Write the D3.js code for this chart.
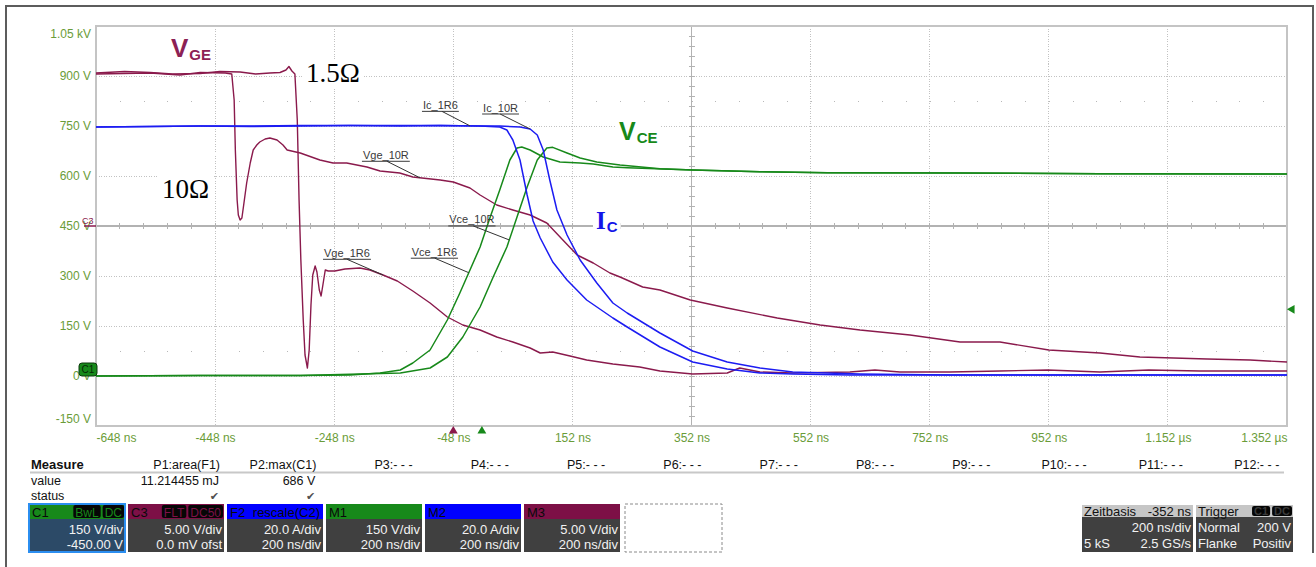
<!DOCTYPE html>
<html>
<head>
<meta charset="utf-8">
<script src="https://cdn.jsdelivr.net/npm/d3@7"></script>
<style>
  body { margin: 0; background: #fff; }
  svg { display: block; font-family: "Liberation Sans", Arial, sans-serif; }
</style>
</head>
<body>
<svg id="scope" width="1316" height="567"></svg>
<script>
// axis ticks
var timeTicks = [-648, -448, -248, -48, 152, 352, 552, 752, 952, 1152, 1352];   // ns
var voltTicks = [-150, 0, 150, 300, 450, 600, 750, 900, 1050];                  // V (C1 scale)

// gate-emitter voltage [ns, V]
var vge1R6 = [[-648,15.3],[-600,15.45],[-557,15.35],[-520,15.2],[-473,15.25],[-440,15.45],[-406,15.4],[-380,15.2],[-356,15.3],
  [-339,15.35],[-329,15.6],[-324,15.95],[-319,15.5],[-314,15.2],[-310,10.6],[-307,2.6],[-304,-3.4],[-300,-9.4],[-297,-12.9],
  [-293,-14.2],[-290,-12.4],[-287,-7.9],[-284,-4.9],[-280,-4.0],[-277,-4.6],[-273,-6.4],[-270,-7.0],[-267,-5.9],[-263,-4.4],
  [-258,-4.5],[-247,-4.5],[-230,-4.3],[-205,-4.2],[-188,-4.4],[-166,-4.9],[-142,-5.5],[-116,-6.5],[-87,-7.7],[-58,-9.1],
  [-32,-9.9],[-3,-10.4],[25,-11.1],[52,-11.6],[81,-12.2],[98,-12.7],[119,-12.6],[148,-13.0],[176,-13.4],[220,-13.8],
  [265,-14.1],[299,-14.5],[354,-14.8],[412,-14.7],[433,-14.2],[467,-14.6],[522,-14.7],[618,-14.6],[660,-14.4],[702,-14.6],
  [786,-14.6],[870,-14.5],[950,-14.4],[1038,-14.6],[1120,-14.4],[1206,-14.5],[1352,-14.5]];
var vge10R = [[-648,15.2],[-557,15.3],[-507,15.1],[-473,15.35],[-431,15.3],[-420,15.2],[-416,12.6],[-414,7.6],[-411,2.6],
  [-409,1.1],[-406,0.6],[-403,0.8],[-400,2.1],[-395,4.3],[-389,6.3],[-384,7.6],[-378,8.1],[-373,8.4],[-364,8.7],[-356,8.8],
  [-344,8.6],[-334,8.1],[-327,7.6],[-305,7.3],[-272,6.6],[-250,6.3],[-227,6.3],[-193,5.9],[-171,5.5],[-138,5.3],[-116,4.9],
  [-70,4.6],[-48,4.4],[-20,3.8],[-3,3.1],[25,2.1],[52,1.6],[81,1.1],[109,0.3],[136,-1.4],[160,-2.9],[187,-3.7],[215,-4.7],
  [232,-5.1],[270,-6.1],[299,-6.4],[350,-7.4],[412,-8.2],[496,-9.2],[568,-9.9],[635,-10.4],[719,-10.9],[803,-11.6],
  [870,-11.6],[952,-12.4],[1038,-12.7],[1105,-13.1],[1218,-13.3],[1290,-13.4],[1352,-13.6]];

// collector current [ns, A]
var ic1R6 = [[-648,99.6],[-557,99.8],[-473,100],[-389,99.8],[-305,100],[-221,100.2],[-137,100.2],[-70,100.2],[-3,100],
  [30,99.6],[42,98.4],[52,94.4],[64,86.4],[76,72.4],[86,62],[98,55.2],[119,45.6],[143,38.4],[176,30.4],[220,23.2],
  [244,19.6],[299,11.6],[354,5.6],[412,2.8],[467,1.2],[522,0.8],[618,0.4],[786,0.4],[1038,0.4],[1352,0.4]];
var ic10R = [[-648,99.6],[-557,99.8],[-473,100],[-389,100],[-305,100.2],[-221,100.2],[-137,100],[-70,100.2],[-3,100],
  [30,100],[64,99.6],[81,98.8],[93,96.4],[103,90.4],[114,78.4],[126,66.4],[143,56.4],[165,46.4],[193,37.2],[220,29.2],
  [244,25.2],[299,17.2],[354,10],[412,5.6],[467,3.2],[522,1.6],[635,0.8],[786,0.4],[1352,0.4]];

// collector-emitter voltage [ns, V]
var vce1R6 = [[-648,0],[-473,1.5],[-305,1.5],[-221,3],[-171,9],[-137,18],[-116,39],[-87,78],[-58,168],[-37,249],[-20,318],
  [-3,387],[14,477],[30,558],[47,648],[59,684],[67,687],[81,678],[103,657],[131,642],[165,639],[187,636],[220,627],
  [244,625],[354,618],[467,613],[580,610],[803,609],[1038,607],[1352,606]];
var vce10R = [[-648,0],[-473,1.5],[-305,1.5],[-137,9],[-87,24],[-58,57],[-32,117],[-3,207],[19,297],[42,387],[59,477],
  [76,567],[93,648],[109,684],[119,686],[143,669],[165,654],[193,642],[232,633],[299,622],[354,618],[467,613],[580,610],
  [803,609],[1038,607],[1352,606]];

// measurement table
var measureHeads = ["P1:area(F1)", "P2:max(C1)", "P3:- - -", "P4:- - -", "P5:- - -", "P6:- - -", "P7:- - -", "P8:- - -",
  "P9:- - -", "P10:- - -", "P11:- - -", "P12:- - -"];
var measureValues = ["11.214455 mJ", "686 V"];
var measureStatus = ["\u2714", "\u2714"];

// channel descriptors
var channelNames = ["C1", "C3", "F2", "M1", "M2", "M3"];
var channelNotes = [["BwL", "DC"], ["FLT", "DC50"], ["rescale(C2)"], [], [], []];
var channelLines = [["150 V/div", "-450.00 V"], ["5.00 V/div", "0.0 mV ofst"], ["20.0 A/div", "200 ns/div"],
  ["150 V/div", "200 ns/div"], ["20.0 A/div", "200 ns/div"], ["5.00 V/div", "200 ns/div"]];

var GREEN = "#17891a", BLUE = "#1c1cf2", MAROON = "#8a1a4c", LABEL = "#6a9c38";
var headColors = [GREEN, "#7d1046", "#0000ff", GREEN, "#0000ff", "#7d1046"];

var svg = d3.select("#scope");

var x = d3.scaleLinear().domain([-648, 1352]).range([96, 1287]);
var yV = d3.scaleLinear().domain([-150, 1050]).range([426, 26]);
var yGe = d3.scaleLinear().domain([-20, 20]).range([426, 26]);   // 5 V/div, 0 V on centre line
var yI = d3.scaleLinear().domain([-20, 140]).range([426, 26]);   // 20 A/div

// outer frame
svg.append("path").attr("d", "M6,567 V6 H1313 V553")
  .attr("fill", "none").attr("stroke", "#5c5c5c").attr("stroke-width", 2);

var gGrid = svg.append("g").attr("shape-rendering", "crispEdges");
var gBg = svg.append("g");
var gTrace = svg.append("g");
var gText = svg.append("g");

// grid
voltTicks.slice(1, -1).forEach(function (v) {
  gGrid.append("line")
    .attr("x1", x(-648)).attr("x2", x(1352)).attr("y1", yV(v)).attr("y2", yV(v))
    .attr("stroke", v === 450 ? "#b2b2b2" : "#c2c2c2")
    .attr("stroke-width", v === 450 ? 1.5 : 1)
    .attr("stroke-dasharray", v === 450 ? null : "1,1.5");
});
timeTicks.slice(1, -1).forEach(function (t) {
  gGrid.append("line")
    .attr("x1", x(t)).attr("x2", x(t)).attr("y1", yV(1050)).attr("y2", yV(-150))
    .attr("stroke", t === 352 ? "#b2b2b2" : "#c2c2c2")
    .attr("stroke-width", t === 352 ? 1.5 : 1)
    .attr("stroke-dasharray", t === 352 ? null : "1,1.5");
});
// minor ticks on centre lines
d3.range(-608, 1352, 40).forEach(function (t) {
  gGrid.append("line").attr("x1", x(t)).attr("x2", x(t)).attr("y1", yV(450) - 3).attr("y2", yV(450) + 3)
    .attr("stroke", "#b2b2b2");
  [75, 825].forEach(function (v) {
    gGrid.append("rect").attr("x", x(t)).attr("y", yV(v)).attr("width", 1).attr("height", 1).attr("fill", "#b8b8b8");
  });
});
d3.range(-120, 1050, 30).forEach(function (v) {
  gGrid.append("line").attr("x1", x(352) - 3).attr("x2", x(352) + 3).attr("y1", yV(v)).attr("y2", yV(v))
    .attr("stroke", "#b2b2b2");
});
gGrid.append("rect").attr("x", x(-648)).attr("y", yV(1050)).attr("width", x(1352) - x(-648))
  .attr("height", yV(-150) - yV(1050)).attr("fill", "none").attr("stroke", "#c4c4c4").attr("stroke-width", 2);

// axes labels
function fmtV(v) { return v >= 1000 ? (v / 1000).toFixed(2) + " kV" : v + " V"; }
function fmtT(t) { return Math.abs(t) >= 1000 ? (t / 1000).toFixed(3) + " \u00b5s" : t + " ns"; }

var yAxis = svg.append("g").attr("transform", "translate(" + x(-648) + ",0)")
  .call(d3.axisLeft(yV).tickValues(voltTicks).tickFormat(fmtV).tickSize(0).tickPadding(5));
var xAxis = svg.append("g").attr("transform", "translate(0," + yV(-150) + ")")
  .call(d3.axisBottom(x).tickValues(timeTicks).tickFormat(fmtT).tickSize(0).tickPadding(7));
[yAxis, xAxis].forEach(function (a) {
  a.select(".domain").remove();
  a.selectAll("text").attr("fill", LABEL).style("font-size", "12px").style("font-family", "'Liberation Sans', Arial, sans-serif");
});
yAxis.selectAll(".tick").filter(function (d) { return d === 1050; }).select("text").attr("y", 8);
yAxis.selectAll(".tick").filter(function (d) { return d === -150; }).select("text").attr("y", -7);
xAxis.selectAll(".tick").filter(function (d) { return d === -648; }).select("text").attr("text-anchor", "start");
xAxis.selectAll(".tick").filter(function (d) { return d === 1352; }).select("text").attr("text-anchor", "end");

// traces
svg.append("clipPath").attr("id", "plotclip").append("rect")
  .attr("x", x(-648)).attr("y", yV(1050)).attr("width", x(1352) - x(-648)).attr("height", yV(-150) - yV(1050));
gTrace.attr("clip-path", "url(#plotclip)");

function trace(data, yScale, color, w) {
  var line = d3.line().x(function (d) { return x(d[0]); }).y(function (d) { return yScale(d[1]); });
  gTrace.append("path").datum(data).attr("d", line)
    .attr("fill", "none").attr("stroke", color).attr("stroke-width", w).attr("stroke-linejoin", "round");
}
trace(vge10R, yGe, MAROON, 1.4);
trace(vge1R6, yGe, MAROON, 1.4);
trace(vce1R6, yV, GREEN, 1.5);
trace(vce10R, yV, GREEN, 1.5);
trace(ic10R, yI, BLUE, 1.5);
trace(ic1R6, yI, BLUE, 1.5);

// small trace annotations: [text, series, scale, time, dx, dy, leader start]
var notes = [
  ["Ic_1R6", ic1R6, yI, -20, -47, -14.5, 19],
  ["Ic_10R", ic10R, yI, 81, -47, -15, 17],
  ["Vge_10R", vge10R, yGe, -104, -57, -16.5, 24],
  ["Vce_10R", vce10R, yV, 46, -60, -14, 24],
  ["Vce_1R6", vce1R6, yV, -22, -57, -14.5, 23],
  ["Vge_1R6", vge1R6, yGe, -166, -59, -15.7, 23]
];
function valueAt(series, t) {
  var i = d3.bisector(function (d) { return d[0]; }).left(series, t);
  var a = series[Math.max(0, i - 1)], b = series[Math.min(series.length - 1, i)];
  if (a[0] === b[0]) return a[1];
  return a[1] + (b[1] - a[1]) * (t - a[0]) / (b[0] - a[0]);
}
notes.forEach(function (n) {
  var tx = x(n[3]), ty = n[2](valueAt(n[1], n[3]));
  var lx = tx + n[4], uy = ty + n[5];
  var t = gText.append("text").attr("x", lx).attr("y", uy - 2.5).text(n[0])
    .attr("fill", "#3a3a3a").style("font-size", "11px");
  var w = t.node().getComputedTextLength();
  gText.append("line").attr("x1", lx - 1).attr("x2", lx + w + 1).attr("y1", uy).attr("y2", uy)
    .attr("stroke", "#3a3a3a").attr("stroke-width", 1);
  gText.append("line").attr("x1", lx + n[6]).attr("y1", uy).attr("x2", tx).attr("y2", ty)
    .attr("stroke", "#333").attr("stroke-width", 1);
});

// big labels with white backing
function bigLabel(px, py, main, sub, color, mainFont, size, subSize) {
  var t = gText.append("text").attr("x", px).attr("y", py).attr("fill", color);
  t.append("tspan").text(main).style("font-family", mainFont).style("font-weight", sub === null ? "normal" : "bold")
    .style("font-size", size + "px");
  if (sub !== null) {
    t.append("tspan").text(sub).attr("dy", 3).attr("dx", 1).style("font-family", "'Liberation Sans', Arial, sans-serif")
      .style("font-weight", "bold").style("font-size", subSize + "px");
  }
  var bb = t.node().getBBox();
  gBg.append("rect").attr("x", bb.x - 3).attr("y", bb.y + 2).attr("width", bb.width + 6).attr("height", bb.height - 2)
    .attr("fill", "#fff");
}
var SANS = "'Liberation Sans', Arial, sans-serif", SERIF = "'Liberation Serif', 'Times New Roman', serif";
bigLabel(171, 57, "V", "GE", "#8c2155", SANS, 26, 15);
bigLabel(619, 140, "V", "CE", GREEN, SANS, 25, 15);
bigLabel(596, 229, "I", "C", "#1515e8", SERIF, 25, 15);
bigLabel(306, 82, "1.5\u03a9", null, "#000", SERIF, 27, 0);
bigLabel(162, 198, "10\u03a9", null, "#000", SERIF, 27, 0);

// channel markers
svg.append("text").attr("x", 82).attr("y", yV(450) - 2).text("C3").attr("fill", MAROON)
  .style("font-size", "9px");
svg.append("line").attr("x1", 84).attr("x2", 96).attr("y1", yV(450)).attr("y2", yV(450)).attr("stroke", MAROON).attr("stroke-width", 1.5);
svg.append("rect").attr("x", 79).attr("y", yV(0) - 13).attr("width", 18).attr("height", 13).attr("rx", 3)
  .attr("fill", GREEN).attr("stroke", "#0a3a0a");
svg.append("text").attr("x", 88).attr("y", yV(0) - 3).attr("text-anchor", "middle").text("C1")
  .attr("fill", "#062a06").style("font-size", "10px");
svg.append("path").attr("d", d3.symbol(d3.symbolTriangle, 34)()).attr("fill", MAROON)
  .attr("transform", "translate(" + x(-48) + "," + (yV(-150) + 5) + ")");
svg.append("path").attr("d", d3.symbol(d3.symbolTriangle, 34)()).attr("fill", GREEN)
  .attr("transform", "translate(" + x(0) + "," + (yV(-150) + 5) + ")");
svg.append("path").attr("d", d3.symbol(d3.symbolTriangle, 34)()).attr("fill", GREEN)
  .attr("transform", "translate(" + (x(1352) + 5) + "," + yV(200) + ") rotate(-90)");

// measurement table
var panel = svg.append("g").style("font-size", "12.5px").attr("fill", "#111");
function colRight(i) { return 220 + 96.3 * i; }
panel.append("text").attr("x", 31).attr("y", 469).text("Measure").style("font-weight", "bold").style("font-size", "13px");
panel.append("line").attr("x1", 30).attr("x2", 1284).attr("y1", 472.5).attr("y2", 472.5).attr("stroke", "#c8c8c8").attr("stroke-width", 2);
measureHeads.forEach(function (h, i) {
  panel.append("text").attr("x", colRight(i)).attr("y", 469).attr("text-anchor", "end").text(h);
});
panel.append("text").attr("x", 31).attr("y", 485).text("value");
panel.append("text").attr("x", 31).attr("y", 500).text("status");
measureValues.forEach(function (v, i) {
  panel.append("text").attr("x", colRight(i) - 1).attr("y", 485).attr("text-anchor", "end").text(v);
});
measureStatus.forEach(function (s, i) {
  panel.append("text").attr("x", colRight(i) - 1).attr("y", 500).attr("text-anchor", "end").text(s)
    .attr("fill", "#505050").style("font-family", "'DejaVu Sans', sans-serif").style("font-size", "11px");
});

// channel boxes
var boxTop = 504, headH = 15, boxH = 48, boxW = 96;
channelNames.forEach(function (name, i) {
  var bx = 29 + i * 99;
  var g = panel.append("g");
  g.append("rect").attr("x", bx).attr("y", boxTop).attr("width", boxW).attr("height", boxH)
    .attr("fill", i === 0 ? "#2c4a67" : "#404040");
  g.append("rect").attr("x", bx).attr("y", boxTop).attr("width", boxW).attr("height", headH).attr("fill", headColors[i]);
  g.append("text").attr("x", bx + 3).attr("y", boxTop + 13).text(name).attr("fill", "#0a0a0a").style("font-size", "13px");
  var right = bx + boxW - 1;
  channelNotes[i].slice().reverse().forEach(function (b) {
    if (i === 2) {
      g.append("text").attr("x", right - 2).attr("y", boxTop + 13).attr("text-anchor", "end").text(b)
        .attr("fill", "#0a0a0a").style("font-size", "13px");
      return;
    }
    var t = g.append("text").attr("y", boxTop + 12.5).text(b).attr("fill", headColors[i]).style("font-size", "12px");
    var w = t.node().getComputedTextLength();
    t.attr("x", right - w - 2);
    g.insert("rect", "text:last-child").attr("x", right - w - 4).attr("y", boxTop + 1).attr("width", w + 4)
      .attr("height", headH - 2).attr("rx", 2).attr("fill", "#060606");
    right -= w + 6;
  });
  channelLines[i].forEach(function (l, k) {
    g.append("text").attr("x", bx + boxW - 2).attr("y", boxTop + 30 + k * 15).attr("text-anchor", "end").text(l)
      .attr("fill", "#f2f2f2").style("font-size", "13px");
  });
  if (i === 0) {
    g.append("rect").attr("x", bx).attr("y", boxTop).attr("width", boxW).attr("height", boxH)
      .attr("fill", "none").attr("stroke", "#2b8ef0").attr("stroke-width", 2);
  }
});
panel.append("rect").attr("x", 29 + 6 * 99 + 2).attr("y", boxTop).attr("width", 97).attr("height", boxH)
  .attr("fill", "none").attr("stroke", "#8a8a8a").attr("stroke-dasharray", "3,2");

// time base and trigger boxes
function infoBox(bx, w, headL, rows, badges) {
  var g = panel.append("g");
  g.append("rect").attr("x", bx).attr("y", 505).attr("width", w).attr("height", 47).attr("fill", "#404040");
  g.append("rect").attr("x", bx).attr("y", 505).attr("width", w).attr("height", 12).attr("fill", "#c6c6c6");
  g.append("text").attr("x", bx + 2).attr("y", 515.5).text(headL[0]).style("font-size", "13px");
  if (headL[1]) g.append("text").attr("x", bx + w - 2).attr("y", 515.5).attr("text-anchor", "end").text(headL[1]).style("font-size", "13px");
  var right = bx + w - 1;
  badges.slice().reverse().forEach(function (b) {
    var t = g.append("text").attr("y", 515).text(b).attr("fill", "#3a3a3a").style("font-size", "11px").style("font-weight", "bold");
    var wd = t.node().getComputedTextLength();
    t.attr("x", right - wd - 2);
    g.insert("rect", "text:last-child").attr("x", right - wd - 4).attr("y", 506).attr("width", wd + 4).attr("height", 10)
      .attr("rx", 2).attr("fill", "#050505");
    right -= wd + 6;
  });
  rows.forEach(function (r, k) {
    var yy = 532 + k * 16;
    if (r[0]) g.append("text").attr("x", bx + 2).attr("y", yy).text(r[0]).attr("fill", "#f2f2f2").style("font-size", "13px");
    g.append("text").attr("x", bx + w - 2).attr("y", yy).attr("text-anchor", "end").text(r[1]).attr("fill", "#f2f2f2").style("font-size", "13px");
  });
}
infoBox(1082, 111, ["Zeitbasis", "-352 ns"], [["", "200 ns/div"], ["5 kS", "2.5 GS/s"]], []);
infoBox(1196, 97, ["Trigger", ""], [["Normal", "200 V"], ["Flanke", "Positiv"]], ["C1", "DC"]);
</script>
</body>
</html>
